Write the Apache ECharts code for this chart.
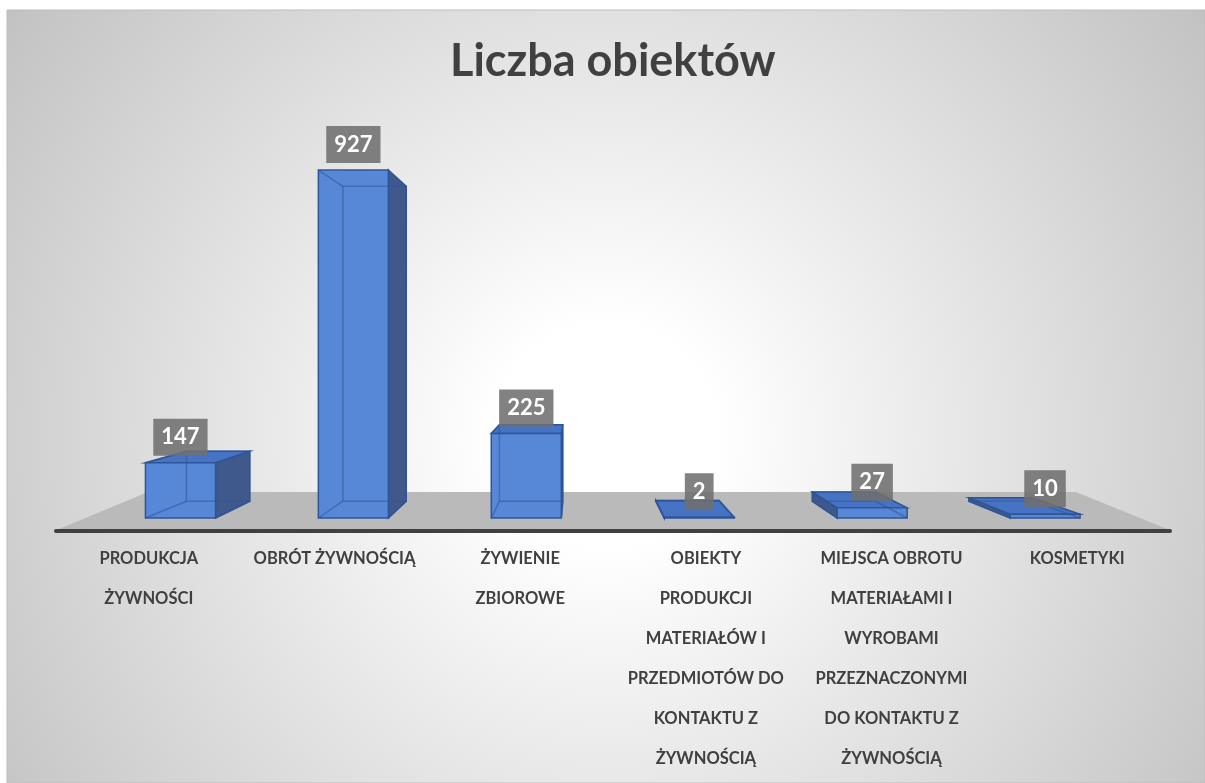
<!DOCTYPE html>
<html>
<head>
<meta charset="utf-8">
<script src="https://cdn.jsdelivr.net/npm/echarts@6/dist/echarts.min.js"></script>
<style>
  html, body { margin: 0; padding: 0; background: #fff; }
  #chart { width: 1205px; height: 783px; }
</style>
</head>
<body>
<div id="chart"></div>
<script>
// categories (line breaks as in the original)
const categories = [
  'PRODUKCJA\nŻYWNOŚCI',
  'OBRÓT ŻYWNOŚCIĄ',
  'ŻYWIENIE\nZBIOROWE',
  'OBIEKTY\nPRODUKCJI\nMATERIAŁÓW I\nPRZEDMIOTÓW DO\nKONTAKTU Z\nŻYWNOŚCIĄ',
  'MIEJSCA OBROTU\nMATERIAŁAMI I\nWYROBAMI\nPRZEZNACZONYMI\nDO KONTAKTU Z\nŻYWNOŚCIĄ',
  'KOSMETYKI'
]
// liczba obiektów
const values = [147, 927, 225, 2, 27, 10]

const chart = echarts.init(document.getElementById('chart'))

// 3D box drawn around the library's coordinates
function renderBox(params, api) {
  const cs = params.coordSys
  const idx = api.value(0)
  const v = api.value(1)
  const top = api.coord([idx, v])
  const base = api.coord([idx, 0])
  const w = api.size([1, 0])[0] * 0.405
  const xl = top[0] - w / 2
  const xr = top[0] + w / 2
  const yt = top[1]
  const yb = base[1]
  // vanishing point for the back face
  const vx = cs.x + cs.width * 0.465
  const vy = cs.y + cs.height * 0.53
  const k = 0.905
  const back = p => [vx + k * (p[0] - vx), vy + k * (p[1] - vy)]

  const fLT = [xl, yt], fRT = [xr, yt], fRB = [xr, yb], fLB = [xl, yb]
  const bLT = back(fLT), bRT = back(fRT), bRB = back(fRB), bLB = back(fLB)

  const edge = '#2f5597'
  const children = []

  if (bRT[0] > xr) {
    children.push({
      type: 'polygon',
      shape: { points: [fRT, bRT, bRB, fRB] },
      style: { fill: '#40598d', stroke: edge, lineWidth: 1.5 }
    })
  }
  if (bLT[0] < xl) {
    children.push({
      type: 'polygon',
      shape: { points: [fLT, bLT, bLB, fLB] },
      style: { fill: '#40598d', stroke: edge, lineWidth: 1.5 }
    })
  }
  if (bLT[1] < yt) {
    children.push({
      type: 'polygon',
      shape: { points: [fLT, fRT, bRT, bLT] },
      style: { fill: '#4673c4', stroke: edge, lineWidth: 1.5 }
    })
  }
  children.push({
    type: 'polygon',
    shape: { points: [fLT, fRT, fRB, fLB] },
    style: { fill: '#5787d7', stroke: edge, lineWidth: 1.5 }
  })
  // hidden edges seen through the glass-like bar
  children.push({
    type: 'polyline',
    shape: { points: [bLT, bRT, bRB, bLB, bLT] },
    style: { fill: null, stroke: 'rgba(47,85,151,0.55)', lineWidth: 1.5 }
  })
  ;[[fLT, bLT], [fLB, bLB], [fRB, bRB]].forEach(seg => {
    children.push({
      type: 'line',
      shape: { x1: seg[0][0], y1: seg[0][1], x2: seg[1][0], y2: seg[1][1] },
      style: { stroke: 'rgba(47,85,151,0.55)', lineWidth: 1.5 }
    })
  })
  // value label
  children.push({
    type: 'text',
    x: top[0],
    y: yt - 7,
    z2: 10,
    style: {
      text: String(v),
      fill: '#ffffff',
      font: 'bold 22px Lato',
      align: 'center',
      verticalAlign: 'bottom',
      lineHeight: 21,
      backgroundColor: 'rgba(112,112,112,0.88)',
      padding: [8, 8, 8, 8]
    }
  })
  return { type: 'group', children }
}

chart.setOption({
  animation: false,
  title: {
    text: 'Liczba obiektów',
    left: 445,
    top: 34,
    textStyle: {
      fontFamily: 'Lato',
      fontWeight: 'bold',
      fontSize: 45,
      color: '#404040'
    }
  },
  graphic: [
    {
      type: 'rect',
      z: -10,
      shape: { x: 7, y: 10, width: 1198, height: 773 },
      style: {
        fill: {
          type: 'radial', x: 0.5, y: 0.55, r: 0.95,
          colorStops: [
            { offset: 0, color: '#ffffff' },
            { offset: 0.15, color: '#ffffff' },
            { offset: 1, color: '#c2c2c2' }
          ]
        },
        stroke: '#bdbdbd',
        lineWidth: 1
      }
    },
    {
      type: 'polygon',
      z: -5,
      shape: { points: [[54, 531], [148, 492], [1076, 492], [1172, 531]] },
      style: { fill: '#bababa' }
    }
  ],
  grid: [
    { left: 94, width: 1037.5, top: 142.6, height: 375.4 },
    { left: 56, width: 1114, top: 100, height: 431 }
  ],
  xAxis: [
    { type: 'category', gridIndex: 0, data: categories, show: false },
    {
      type: 'category',
      gridIndex: 1,
      data: categories,
      axisLine: { lineStyle: { color: '#404040', width: 4 } },
      axisTick: { show: false },
      axisLabel: {
        interval: 0,
        margin: 8,
        color: '#404040',
        fontFamily: 'Lato',
        fontWeight: 'bold',
        fontSize: 16.5,
        lineHeight: 40
      }
    }
  ],
  yAxis: [
    { type: 'value', gridIndex: 0, min: 0, max: 1000, show: false },
    { type: 'value', gridIndex: 1, show: false }
  ],
  series: [
    {
      type: 'custom',
      xAxisIndex: 0,
      yAxisIndex: 0,
      renderItem: renderBox,
      encode: { x: 0, y: 1 },
      data: values.map((v, i) => [i, v])
    }
  ]
})
</script>
</body>
</html>
